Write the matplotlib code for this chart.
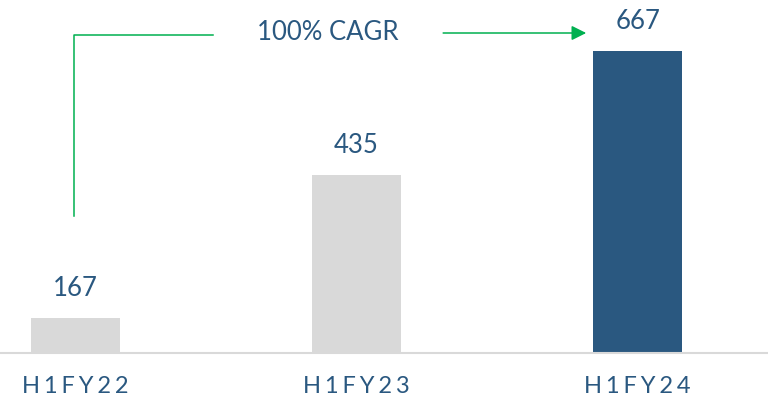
import matplotlib.pyplot as plt

# data
periods = ['H1FY22', 'H1FY23', 'H1FY24']
revenue = [167, 435, 667]
bar_colors = ['#d9d9d9', '#d9d9d9', '#2a5880']
cagr_text = '100% CAGR'

txt_color = '#2a5880'
green = '#00b050'
plt.rcParams['font.family'] = ['Lato', 'DejaVu Sans']

fig = plt.figure(figsize=(7.68, 4.08), dpi=100)
ax = fig.add_axes([0, 0.1355, 1, 0.8645])

x = range(len(periods))
ax.bar(x, revenue, width=0.317, color=bar_colors, zorder=2)

ax.set_xlim(-0.269, 2.464)
ax.set_ylim(102, 762.5)

for xi, v in zip(x, revenue):
    ax.annotate(str(v), (xi, v), xytext=(0, 21.5), textcoords='offset points',
                ha='center', va='center', fontsize=18.5, color=txt_color)

# spaced out category labels (six-per-em spaces between letters)
ax.set_xticks(list(x))
ax.set_xticklabels(['\u2006'.join(p) for p in periods], fontsize=17, color=txt_color)
ax.tick_params(axis='x', length=0, pad=16.5)
ax.set_yticks([])

for s in ['top', 'left', 'right']:
    ax.spines[s].set_visible(False)
ax.spines['bottom'].set_color('#d9d9d9')
ax.spines['bottom'].set_linewidth(1.5)

# CAGR bracket + arrow
ax.plot([-0.005, -0.005, 0.489], [358, 697, 697], color=green, lw=1.1, clip_on=False)
ax.annotate('', xy=(1.817, 700.7), xytext=(1.308, 700.7),
            arrowprops=dict(arrowstyle='-|>', color=green, lw=1.1, mutation_scale=22,
                            shrinkA=0, shrinkB=0))
ax.text(0.899, 702, cagr_text, ha='center', va='center', fontsize=18.5, color=txt_color)

fig.savefig('out.png', dpi=100)
